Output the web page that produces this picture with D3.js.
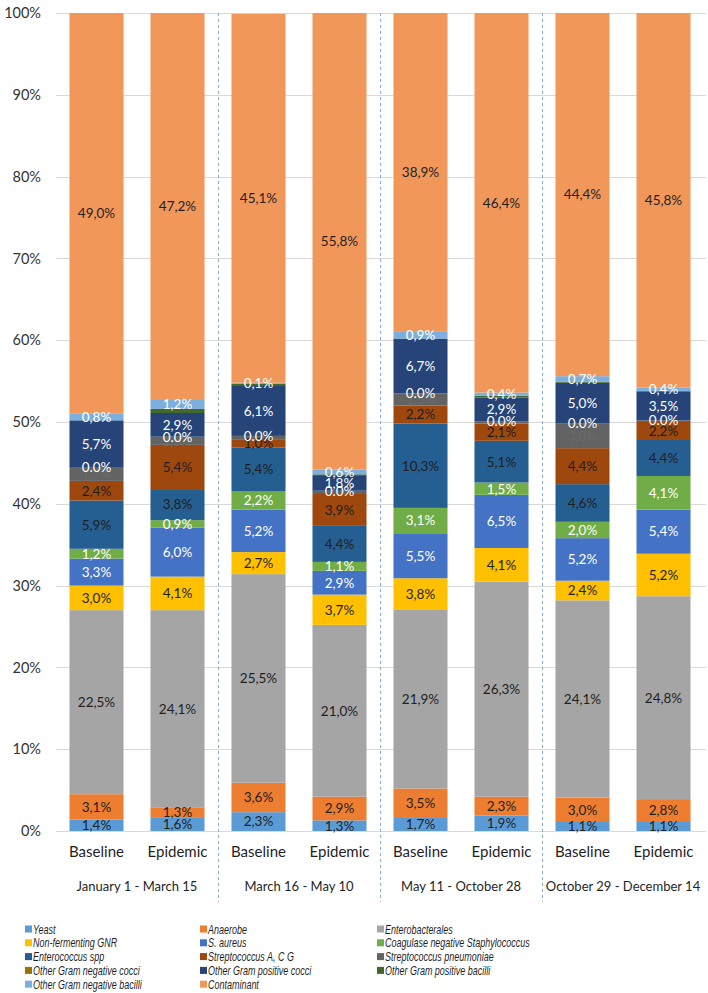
<!DOCTYPE html>
<html>
<head>
<meta charset="utf-8">
<script src="https://cdn.jsdelivr.net/npm/d3@7"></script>
<style>
  html, body { margin: 0; padding: 0; background: #ffffff; }
  svg { display: block; }
</style>
</head>
<body>
<svg id="chart" width="708" height="993"></svg>
<script>
// ---------------- DATA ----------------
const categories = ["Baseline", "Epidemic", "Baseline", "Epidemic", "Baseline", "Epidemic", "Baseline", "Epidemic"];
const periods = ["January 1 - March 15", "March 16 - May 10", "May 11 - October 28", "October 29 - December 14"];
const seriesNames = [
  "Yeast", "Anaerobe", "Enterobacterales",
  "Non-fermenting GNR", "S. aureus", "Coagulase negative Staphylococcus",
  "Enterococcus spp", "Streptococcus A, C G", "Streptococcus pneumoniae",
  "Other Gram negative cocci", "Other Gram positive cocci", "Other Gram positive bacilli",
  "Other Gram negative bacilli", "Contaminant"
];
const yeast            = [1.4, 1.6, 2.3, 1.3, 1.7, 1.9, 1.1, 1.1];
const anaerobe         = [3.1, 1.3, 3.6, 2.9, 3.5, 2.3, 3.0, 2.8];
const enterobacterales = [22.5, 24.1, 25.5, 21.0, 21.9, 26.3, 24.1, 24.8];
const nonFermentingGNR = [3.0, 4.1, 2.7, 3.7, 3.8, 4.1, 2.4, 5.2];
const sAureus          = [3.3, 6.0, 5.2, 2.9, 5.5, 6.5, 5.2, 5.4];
const coagNegStaph     = [1.2, 0.9, 2.2, 1.1, 3.1, 1.5, 2.0, 4.1];
const enterococcus     = [5.9, 3.8, 5.4, 4.4, 10.3, 5.1, 4.6, 4.4];
const streptoACG       = [2.4, 5.4, 1.0, 3.9, 2.2, 2.1, 4.4, 2.2];
const streptoPneumo    = [1.7, 1.0, 0.4, 0.4, 1.5, 0.3, 3.0, 0.2];
const otherGNCocci     = [0.0, 0.0, 0.0, 0.0, 0.0, 0.0, 0.0, 0.0];
const otherGPCocci     = [5.7, 2.9, 6.1, 1.8, 6.7, 2.9, 5.0, 3.5];
const otherGPBacilli   = [0.0, 0.5, 0.3, 0.2, 0.0, 0.2, 0.1, 0.1];
const otherGNBacilli   = [0.8, 1.2, 0.1, 0.6, 0.9, 0.4, 0.7, 0.4];
const contaminant      = [49.0, 47.2, 45.1, 55.8, 38.9, 46.4, 44.4, 45.8];
const yTicks = [0, 10, 20, 30, 40, 50, 60, 70, 80, 90, 100];

const seriesValues = [yeast, anaerobe, enterobacterales, nonFermentingGNR, sAureus, coagNegStaph,
  enterococcus, streptoACG, streptoPneumo, otherGNCocci, otherGPCocci, otherGPBacilli,
  otherGNBacilli, contaminant];

// ---------------- STYLE ----------------
const colors = ["#5b9bd5", "#ed7d31", "#a5a5a5", "#ffc000", "#4472c4", "#70ad47",
  "#255e91", "#9e480e", "#636363", "#997300", "#264478", "#43682b", "#7cafdd", "#f1975a"];
const labelColors = ["#1f1f1f", "#1f1f1f", "#1f1f1f", "#1f1f1f", "#ffffff", "#ffffff",
  "#1f1f1f", "#1f1f1f", "#6b6b6b", "#ffffff", "#ffffff", null, "#ffffff", "#1f1f1f"];

const svg = d3.select("#chart");
const plotLeft = 56, plotRight = 704, plotTop = 13, plotBottom = 831;
const font = "Lato, 'Open Sans', sans-serif";

const table = categories.map((c, i) => {
  const row = { idx: i };
  seriesNames.forEach((s, j) => row[s] = seriesValues[j][i]);
  return row;
});
const stacked = d3.stack().keys(seriesNames)(table);

const x = d3.scaleBand().domain(d3.range(categories.length)).range([plotLeft, plotRight]).paddingInner(0.333).paddingOuter(0.1665);
const y = d3.scaleLinear().domain([0, 100]).range([plotBottom, plotTop]);

// gridlines
svg.append("g").selectAll("line").data(yTicks).join("line")
  .attr("x1", plotLeft).attr("x2", plotRight + 2)
  .attr("y1", d => Math.round(y(d)) + 0.5).attr("y2", d => Math.round(y(d)) + 0.5)
  .attr("stroke", "#d9d9d9").attr("stroke-width", 1);

// y axis labels
const yAxis = d3.axisLeft(y).tickValues(yTicks).tickFormat(d => d + "%").tickSize(0).tickPadding(0);
const ya = svg.append("g").attr("transform", `translate(${plotLeft - 15},0)`).call(yAxis);
ya.select(".domain").remove();
ya.selectAll("text").attr("font-family", font).attr("font-size", 14.5).attr("fill", "#333333");

// bars
const layer = svg.append("g").selectAll("g").data(stacked).join("g")
  .attr("fill", (d, i) => colors[i]);
layer.selectAll("rect").data(d => d).join("rect")
  .attr("x", (d, i) => x(i))
  .attr("width", x.bandwidth())
  .attr("y", d => y(d[1]))
  .attr("height", d => Math.max(0, y(d[0]) - y(d[1])));

// dashed separators between periods
svg.append("g").selectAll("line").data(d3.range(1, periods.length)).join("line")
  .attr("x1", d => Math.round(x(d * 2) - x.step() * x.paddingInner() / 2) + 0.5)
  .attr("x2", d => Math.round(x(d * 2) - x.step() * x.paddingInner() / 2) + 0.5)
  .attr("y1", plotTop).attr("y2", 902)
  .attr("stroke", "#7fb0dc").attr("stroke-width", 1).attr("stroke-dasharray", "3,3");

// data labels
const labels = [];
stacked.forEach((s, j) => {
  if (labelColors[j] === null) return;
  s.forEach((d, i) => {
    const v = seriesValues[j][i];
    if (j === 8 && v < 1.0) return;
    const txt = j === 9 ? v.toFixed(1) + "%" : v.toFixed(1).replace(".", ",") + "%";
    labels.push({ i, j, yv: (d[0] + d[1]) / 2, txt });
  });
});
svg.append("g").selectAll("text").data(labels).join("text")
  .attr("x", d => x(d.i) + x.bandwidth() / 2)
  .attr("y", d => y(d.yv))
  .attr("dy", "0.36em")
  .attr("text-anchor", "middle")
  .attr("font-family", font).attr("font-size", 13.5)
  .attr("fill", d => labelColors[d.j])
  .text(d => d.txt);

// category labels
svg.append("g").selectAll("text").data(categories).join("text")
  .attr("x", (d, i) => x(i) + x.bandwidth() / 2)
  .attr("y", 857)
  .attr("text-anchor", "middle")
  .attr("font-family", font).attr("font-size", 15).attr("fill", "#1f1f1f")
  .text(d => d);

// period labels
svg.append("g").selectAll("text").data(periods).join("text")
  .attr("x", (d, i) => (x(i * 2) + x(i * 2 + 1) + x.bandwidth()) / 2)
  .attr("y", 891)
  .attr("text-anchor", "middle")
  .attr("font-family", font).attr("font-size", 13).attr("fill", "#1f1f1f")
  .text(d => d);

// legend
const colX = [25, 200, 377];
const rowY0 = 929, rowH = 13.8;
const leg = svg.append("g").selectAll("g").data(seriesNames).join("g")
  .attr("transform", (d, i) => `translate(${colX[i % 3]},${rowY0 + Math.floor(i / 3) * rowH})`);
leg.append("rect").attr("x", 0).attr("y", -3.5).attr("width", 7).attr("height", 7)
  .attr("fill", (d, i) => colors[i]);
leg.append("text").attr("x", 8).attr("y", 0).attr("dy", "0.36em")
  .attr("font-family", "'Liberation Sans', sans-serif")
  .attr("font-style", "italic").attr("font-size", 13).attr("fill", "#1f1f1f")
  .text(d => d)
  .each(function () {
    const w = this.getComputedTextLength();
    d3.select(this).attr("textLength", w * 0.69).attr("lengthAdjust", "spacingAndGlyphs");
  });
</script>
</body>
</html>
